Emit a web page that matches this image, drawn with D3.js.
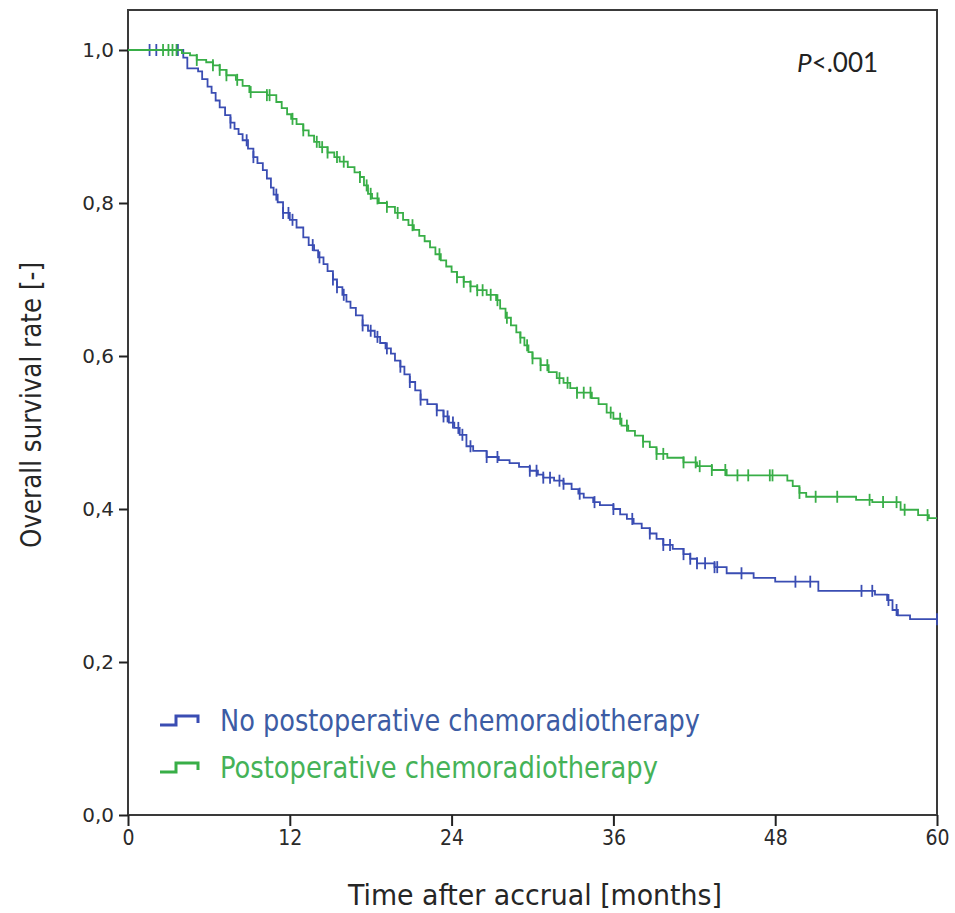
<!DOCTYPE html>
<html>
<head>
<meta charset="utf-8">
<script src="https://cdn.jsdelivr.net/npm/d3@7"></script>
<style>
  html, body { margin: 0; padding: 0; background: #fff; }
  svg { display: block; }
</style>
</head>
<body>
<svg id="chart" width="955" height="913"></svg>
<script>
// Kaplan–Meier overall survival, two treatment groups.
// Each group: event times (months) with survival after the step, plus censoring times.

const noCrtTimes = [4.1, 4.4, 5.2, 5.5, 5.9, 6.2, 6.5, 6.8, 7.2, 7.6, 7.9, 8.2, 8.5, 8.9, 9.3, 9.6, 10.0, 10.3, 10.6, 10.8, 11.1, 11.5, 12.0, 12.5, 13.0, 13.4, 13.8, 14.1, 14.5, 14.8, 15.2, 15.5, 15.9, 16.2, 16.5, 16.9, 17.4, 17.8, 18.3, 18.7, 19.1, 19.5, 19.8, 20.2, 20.5, 20.9, 21.3, 21.7, 22.2, 22.9, 23.4, 23.8, 24.2, 24.6, 25.1, 25.6, 26.6, 27.5, 28.3, 29.0, 29.8, 30.4, 30.8, 31.6, 32.3, 32.9, 33.4, 33.8, 34.5, 35.0, 36.0, 36.5, 37.0, 37.5, 38.1, 38.7, 39.2, 39.7, 40.4, 41.2, 41.7, 42.2, 43.5, 44.4, 46.4, 48.0, 51.2, 55.4, 56.3, 56.7, 57.1, 58.0];
const noCrtSurv  = [0.990, 0.976, 0.972, 0.962, 0.952, 0.944, 0.934, 0.925, 0.915, 0.905, 0.897, 0.890, 0.882, 0.871, 0.860, 0.852, 0.843, 0.832, 0.820, 0.811, 0.801, 0.787, 0.778, 0.768, 0.755, 0.745, 0.738, 0.729, 0.720, 0.711, 0.700, 0.690, 0.680, 0.671, 0.663, 0.653, 0.640, 0.633, 0.625, 0.617, 0.610, 0.603, 0.594, 0.586, 0.576, 0.566, 0.555, 0.543, 0.537, 0.529, 0.521, 0.513, 0.506, 0.497, 0.482, 0.476, 0.468, 0.464, 0.460, 0.455, 0.450, 0.445, 0.441, 0.437, 0.433, 0.426, 0.420, 0.415, 0.409, 0.405, 0.400, 0.393, 0.387, 0.381, 0.375, 0.368, 0.361, 0.353, 0.348, 0.341, 0.335, 0.329, 0.324, 0.316, 0.310, 0.305, 0.293, 0.288, 0.281, 0.268, 0.261, 0.256];
const noCrtCensored = [1.6, 2.1, 3.7, 7.6, 8.8, 9.3, 11.0, 11.5, 11.9, 12.2, 13.7, 14.2, 15.2, 15.5, 16.0, 17.4, 18.0, 18.5, 19.2, 20.2, 20.9, 21.7, 22.9, 23.4, 23.7, 24.1, 24.5, 24.8, 25.4, 26.6, 27.4, 29.8, 30.3, 30.8, 31.3, 32.0, 32.3, 33.5, 34.6, 36.0, 37.4, 38.7, 39.7, 40.2, 41.2, 41.7, 42.2, 42.8, 43.5, 43.7, 45.5, 49.5, 50.6, 54.4, 55.2, 56.4, 57.0, 60.0];

const crtTimes = [4.0, 4.6, 5.1, 5.8, 6.3, 6.8, 7.3, 8.0, 8.5, 9.0, 10.3, 11.0, 11.4, 11.8, 12.1, 12.5, 13.0, 13.4, 13.8, 14.2, 14.8, 15.3, 15.7, 16.3, 16.8, 17.2, 17.5, 17.8, 18.1, 18.6, 19.2, 19.8, 20.4, 20.8, 21.2, 21.6, 22.0, 22.4, 22.8, 23.2, 23.6, 24.0, 24.4, 24.9, 25.4, 25.9, 26.6, 27.3, 27.6, 28.0, 28.4, 28.8, 29.1, 29.4, 29.7, 30.0, 30.6, 31.2, 31.8, 32.3, 32.8, 33.3, 34.4, 34.9, 35.5, 36.0, 36.6, 37.1, 37.6, 38.2, 38.7, 39.2, 40.0, 41.2, 42.2, 43.3, 44.4, 48.9, 49.3, 49.8, 50.3, 54.0, 55.2, 57.3, 58.6, 59.4];
const crtSurv  = [0.996, 0.993, 0.987, 0.984, 0.980, 0.974, 0.967, 0.961, 0.953, 0.945, 0.941, 0.932, 0.924, 0.916, 0.910, 0.903, 0.895, 0.888, 0.880, 0.873, 0.866, 0.860, 0.854, 0.847, 0.840, 0.834, 0.823, 0.812, 0.806, 0.800, 0.795, 0.787, 0.778, 0.771, 0.765, 0.757, 0.750, 0.742, 0.733, 0.725, 0.717, 0.710, 0.703, 0.697, 0.691, 0.686, 0.680, 0.673, 0.662, 0.650, 0.640, 0.631, 0.624, 0.614, 0.605, 0.597, 0.588, 0.579, 0.571, 0.565, 0.558, 0.552, 0.545, 0.537, 0.526, 0.518, 0.509, 0.502, 0.496, 0.488, 0.481, 0.472, 0.467, 0.461, 0.456, 0.451, 0.444, 0.437, 0.430, 0.421, 0.416, 0.412, 0.409, 0.399, 0.392, 0.388];
const crtCensored = [2.6, 3.0, 3.3, 3.6, 5.1, 6.3, 6.8, 7.3, 8.1, 9.1, 10.3, 10.5, 12.2, 13.0, 14.0, 14.4, 14.8, 15.5, 16.0, 17.2, 17.7, 18.0, 18.5, 19.2, 20.0, 21.1, 23.1, 24.4, 24.9, 25.4, 25.9, 26.3, 26.9, 27.4, 28.1, 29.1, 29.6, 30.0, 30.6, 31.1, 32.0, 32.6, 33.3, 33.8, 34.3, 35.8, 36.5, 37.0, 38.2, 39.2, 39.7, 41.2, 42.1, 42.4, 43.3, 44.3, 45.2, 46.0, 47.6, 47.8, 49.8, 51.0, 52.6, 55.0, 56.0, 57.0, 57.6, 59.3];

const xTicks = [0, 12, 24, 36, 48, 60];
const yTicks = [0, 0.2, 0.4, 0.6, 0.8, 1.0];

const groupNames = ["No postoperative chemoradiotherapy", "Postoperative chemoradiotherapy"];
const lineColors = ["#3a4db3", "#38ae47"];
const textColors = ["#3c5ca4", "#45b257"];

const svg = d3.select("#chart");
const plotLeft = 128, plotRight = 937, plotTop = 10, plotBottom = 815;
const condensed = "DejaVu Sans Condensed, DejaVu Sans, sans-serif";

const x = d3.scaleLinear().domain([0, 60]).range([plotLeft, plotRight]);
const y = d3.scaleLinear().domain([0, 1]).range([plotBottom, 50]);

// frame
svg.append("rect")
  .attr("x", plotLeft).attr("y", plotTop)
  .attr("width", plotRight - plotLeft).attr("height", plotBottom - plotTop)
  .attr("fill", "none").attr("stroke", "#3a3a3a").attr("stroke-width", 2);

// y axis
const yAxis = svg.append("g")
  .attr("transform", `translate(${plotLeft},0)`)
  .call(d3.axisLeft(y).tickValues(yTicks).tickSize(9).tickPadding(5)
    .tickFormat(d => d3.format(".1f")(d).replace(".", ",")));
yAxis.select(".domain").remove();
yAxis.selectAll("line").attr("stroke", "#222").attr("stroke-width", 2);
yAxis.selectAll("text")
  .attr("font-family", "DejaVu Sans, Verdana, sans-serif")
  .attr("font-size", 20).attr("fill", "#2a2a2a");

// x axis
const xAxis = svg.append("g")
  .attr("transform", `translate(0,${plotBottom})`)
  .call(d3.axisBottom(x).tickValues(xTicks).tickSize(11).tickPadding(4));
xAxis.select(".domain").remove();
xAxis.selectAll("line").attr("stroke", "#222").attr("stroke-width", 2);
xAxis.selectAll("text")
  .attr("font-family", condensed)
  .attr("font-size", 21).attr("fill", "#2a2a2a");

// axis titles
svg.append("text")
  .attr("x", 535).attr("y", 905)
  .attr("text-anchor", "middle")
  .attr("font-family", condensed)
  .attr("font-size", 29).attr("fill", "#262626")
  .attr("textLength", 374).attr("lengthAdjust", "spacingAndGlyphs")
  .text("Time after accrual [months]");

svg.append("text")
  .attr("transform", "translate(41,405) rotate(-90)")
  .attr("text-anchor", "middle")
  .attr("font-family", condensed)
  .attr("font-size", 29).attr("fill", "#262626")
  .attr("textLength", 286).attr("lengthAdjust", "spacingAndGlyphs")
  .text("Overall survival rate [-]");

// p-value
const pText = svg.append("text")
  .attr("x", 797).attr("y", 72)
  .attr("font-family", "Lato, Open Sans, sans-serif")
  .attr("font-size", 26).attr("fill", "#222");
pText.append("tspan").attr("font-style", "italic").text("P");
pText.append("tspan").text("<.001");

// survival curves
const groups = [
  { times: noCrtTimes, surv: noCrtSurv, cens: noCrtCensored },
  { times: crtTimes, surv: crtSurv, cens: crtCensored }
];

const line = d3.line()
  .x(d => x(d[0])).y(d => y(d[1]))
  .curve(d3.curveStepAfter);

function survivalAt(g, t) {
  const i = d3.bisectRight(g.times, t);
  return i === 0 ? 1 : g.surv[i - 1];
}

groups.forEach((g, k) => {
  const pts = [[0, 1]].concat(g.times.map((t, i) => [t, g.surv[i]]));
  pts.push([60, g.surv[g.surv.length - 1]]);
  svg.append("path")
    .attr("d", line(pts))
    .attr("fill", "none")
    .attr("stroke", lineColors[k])
    .attr("stroke-width", 1.8);

  svg.append("g").selectAll("line")
    .data(g.cens)
    .join("line")
    .attr("x1", d => x(d)).attr("x2", d => x(d))
    .attr("y1", d => y(survivalAt(g, d)) - 6)
    .attr("y2", d => y(survivalAt(g, d)) + 6)
    .attr("stroke", lineColors[k])
    .attr("stroke-width", 1.8);
});

// legend
const legend = svg.append("g");
const legendWidths = [480, 438];
groupNames.forEach((name, k) => {
  const base = 731 + k * 47;
  const iy = base - 6;
  legend.append("path")
    .attr("d", `M160,${iy} H176 V${iy - 9} H198 V${iy - 2}`)
    .attr("fill", "none")
    .attr("stroke", lineColors[k])
    .attr("stroke-width", 3);
  legend.append("text")
    .attr("x", 220).attr("y", base)
    .attr("font-family", condensed)
    .attr("font-size", 30)
    .attr("textLength", legendWidths[k]).attr("lengthAdjust", "spacingAndGlyphs")
    .attr("fill", textColors[k])
    .text(name);
});
</script>
</body>
</html>
